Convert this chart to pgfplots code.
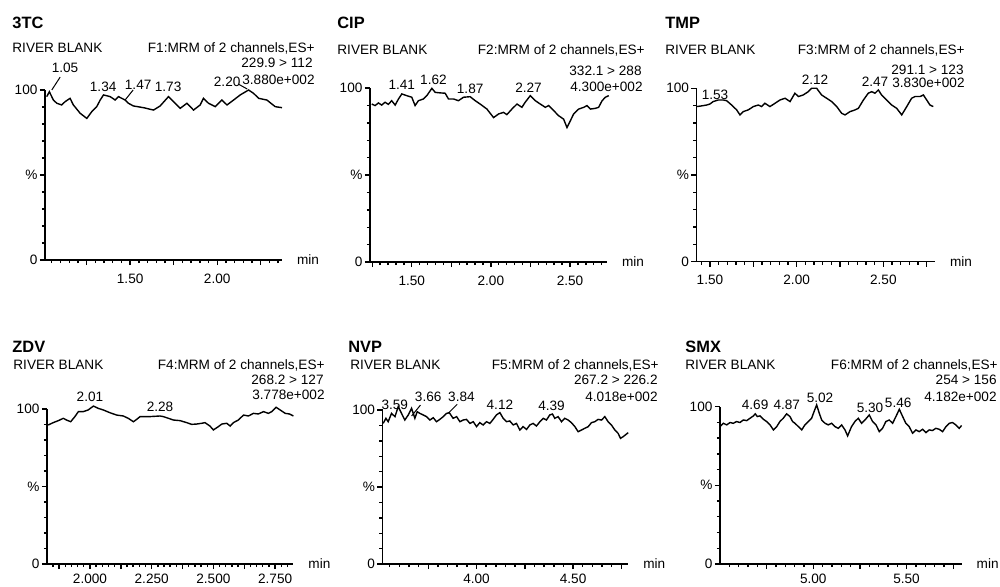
\documentclass[border=0pt]{standalone}
\usepackage{fontspec}
\setmainfont{Liberation Sans}
\usepackage{pgfplots}
\pgfplotsset{compat=1.18}

\newcommand{\ft}{\fontsize{6.8}{8}\selectfont}
\newcommand{\ttl}{\fontsize{8.2}{9}\selectfont\bfseries}

\pgfplotsset{
  chrom/.style={
    scale only axis, anchor=south west, clip=false,
    axis lines*=left, tick pos=left, tick align=outside,
    axis line style={line width=0.7pt},
    every tick/.style={black, line width=0.7pt},
    major tick length=2.6pt, minor tick length=1.6pt,
    ymin=0, ymax=100, ytick={0,50,100}, yticklabels={0,\%,100},
    minor ytick={10,20,...,90},
    tick label style={font=\ft, inner sep=1pt},
    xlabel={min},
    every axis x label/.style={at={(rel axis cs:1,0)}, anchor=west, xshift=4pt, font=\ft},
  },
  top/.style={xticklabel style={yshift=-3pt}},
  bot/.style={xticklabel style={yshift=-1pt}},
  trace/.style={black, line width=0.7pt, mark=none},
}
\tikzset{pk/.style={font=\ft, inner sep=0pt}}

\begin{document}
\begin{tikzpicture}[x=0.5pt, y=0.5pt]
\useasboundingbox (0,0) rectangle (1000,586);

% ---------- 3TC ----------
\begin{axis}[chrom, top, at={(22.5pt,163pt)}, width=118.5pt, height=85pt,
  xmin=1.011, xmax=2.372,
  xtick={1.25,1.50,1.75,2.00,2.25}, xticklabels={,1.50,,2.00,},
  minor xtick={1.05,1.10,...,2.36}]
\addplot[trace] coordinates {
(1.021,96.1)(1.036,99.0)(1.059,94.1)(1.079,92.2)(1.107,91.2)(1.126,93.1)
(1.155,95.1)(1.174,91.2)(1.213,86.3)(1.251,83.3)(1.280,87.3)(1.308,90.2)
(1.328,94.1)(1.347,97.1)(1.385,96.1)(1.414,94.1)(1.433,96.1)(1.471,94.1)
(1.490,92.2)(1.519,90.6)(1.577,89.6)(1.634,88.2)(1.672,90.6)(1.720,96.1)
(1.749,93.1)(1.787,89.2)(1.826,92.2)(1.864,88.2)(1.902,91.2)(1.921,95.1)
(1.950,92.2)(1.989,90.2)(2.027,94.1)(2.056,91.2)(2.094,94.1)(2.132,97.1)
(2.180,100.0)(2.209,98.0)(2.238,95.1)(2.285,94.1)(2.333,90.2)(2.372,89.6)};
\node[pk] at (axis cs:1.126,112.9) {1.05};
\draw[line width=0.5pt] (axis cs:1.050,100) -- (axis cs:1.098,107.6);
\node[pk] at (axis cs:1.345,101.8) {1.34};
\node[pk] at (axis cs:1.546,102.9) {1.47};
\draw[line width=0.5pt] (axis cs:1.471,94.1) -- (axis cs:1.517,100);
\node[pk] at (axis cs:1.718,101.8) {1.73};
\node[pk] at (axis cs:2.057,104.7) {2.20};
\draw[line width=0.5pt] (axis cs:2.121,103.5) -- (axis cs:2.172,100.6);
\end{axis}

% ---------- CIP ----------
\begin{axis}[chrom, top, at={(185pt,162pt)}, width=118.5pt, height=87pt,
  xmin=1.236, xmax=2.734,
  xtick={1.25,1.50,1.75,2.00,2.25,2.50}, xticklabels={,1.50,,2.00,,2.50},
  minor xtick={1.25,1.30,...,2.71}]
\addplot[trace] coordinates {
(1.247,90.8)(1.268,89.9)(1.289,91.4)(1.310,90.2)(1.331,91.8)(1.352,90.6)
(1.373,92.7)(1.395,90.2)(1.416,93.7)(1.437,96.6)(1.468,95.6)(1.500,94.7)
(1.521,89.9)(1.542,92.7)(1.574,93.7)(1.595,95.6)(1.627,99.8)(1.648,97.5)
(1.679,97.2)(1.711,97.0)(1.732,93.7)(1.764,93.7)(1.795,92.7)(1.827,94.7)
(1.869,95.0)(1.901,92.7)(1.932,90.8)(1.975,87.9)(2.017,83.0)(2.049,85.1)
(2.080,86.0)(2.101,84.7)(2.133,87.9)(2.165,90.8)(2.196,88.9)(2.217,91.8)
(2.249,95.6)(2.281,92.7)(2.312,90.8)(2.344,88.9)(2.365,89.9)(2.397,87.0)
(2.428,84.1)(2.460,82.1)(2.481,77.3)(2.502,81.1)(2.523,85.1)(2.555,87.9)
(2.587,88.9)(2.608,89.9)(2.629,87.9)(2.660,88.3)(2.681,88.9)(2.703,92.7)
(2.724,94.7)(2.745,95.6)};
\node[pk] at (axis cs:1.437,101.9) {1.41};
\node[pk] at (axis cs:1.637,104.6) {1.62};
\node[pk] at (axis cs:1.869,99.4) {1.87};
\node[pk] at (axis cs:2.238,100.0) {2.27};
\end{axis}

% ---------- TMP ----------
\begin{axis}[chrom, top, at={(348.3pt,162.2pt)}, width=119.2pt, height=86.7pt,
  xmin=1.423, xmax=2.798,
  xtick={1.50,1.75,2.00,2.25,2.50,2.75}, xticklabels={1.50,,2.00,,2.50,},
  minor xtick={1.45,1.50,...,2.76}]
\addplot[trace] coordinates {
(1.423,89.4)(1.452,89.8)(1.481,90.3)(1.500,90.9)(1.519,92.3)(1.548,93.2)
(1.577,93.2)(1.596,92.8)(1.625,90.3)(1.654,87.5)(1.673,84.6)(1.692,86.5)
(1.721,87.5)(1.750,89.4)(1.779,90.3)(1.798,89.4)(1.817,91.3)(1.846,89.4)
(1.875,91.3)(1.904,93.2)(1.933,94.2)(1.962,92.3)(1.990,97.1)(2.010,95.2)
(2.038,96.1)(2.067,98.0)(2.087,100.0)(2.115,100.0)(2.144,96.1)(2.173,94.2)
(2.202,92.3)(2.231,89.4)(2.260,85.5)(2.279,84.6)(2.308,86.5)(2.337,87.5)
(2.356,88.4)(2.385,93.2)(2.413,97.1)(2.433,98.0)(2.452,97.1)(2.471,99.0)
(2.490,96.1)(2.519,93.2)(2.548,90.3)(2.577,88.4)(2.606,84.6)(2.635,89.4)
(2.663,94.2)(2.683,95.2)(2.712,95.2)(2.731,96.1)(2.750,93.2)(2.769,90.3)
(2.788,89.4)};
\node[pk] at (axis cs:1.529,96.1) {1.53};
\node[pk] at (axis cs:2.106,104.8) {2.12};
\node[pk] at (axis cs:2.452,103.8) {2.47};
\end{axis}

% ---------- ZDV ----------
\begin{axis}[chrom, bot, at={(23.5pt,11pt)}, width=123.2pt, height=77.5pt,
  xmin=1.826, xmax=2.824,
  xtick={1.875,2.000,2.125,2.250,2.375,2.500,2.625,2.750},
  xticklabels={,2.000,,2.250,,2.500,,2.750},
  minor xtick={1.850,1.875,...,2.81}]
\addplot[trace] coordinates {
(1.831,89.7)(1.851,91.2)(1.872,92.5)(1.892,94.0)(1.905,92.9)(1.922,91.8)
(1.939,95.1)(1.953,98.3)(1.973,98.3)(1.993,99.4)(2.014,101.9)(2.034,100.4)
(2.054,99.4)(2.081,97.6)(2.108,96.1)(2.135,95.5)(2.155,94.0)(2.176,91.8)
(2.189,93.3)(2.203,95.1)(2.243,95.1)(2.284,95.5)(2.297,95.1)(2.318,94.0)
(2.338,92.9)(2.365,92.5)(2.392,91.2)(2.412,90.1)(2.432,90.3)(2.453,90.8)
(2.466,91.2)(2.486,89.0)(2.500,86.5)(2.520,88.6)(2.534,90.3)(2.554,90.8)
(2.568,89.0)(2.581,91.2)(2.601,92.9)(2.622,96.1)(2.642,95.5)(2.662,97.2)
(2.682,96.8)(2.703,98.3)(2.723,97.2)(2.736,98.3)(2.754,101.1)(2.770,99.4)
(2.791,97.2)(2.808,96.8)(2.824,95.5)};
\node[pk] at (axis cs:2.000,107.9) {2.01};
\node[pk] at (axis cs:2.284,101.5) {2.28};
\end{axis}

% ---------- NVP ----------
\begin{axis}[chrom, bot, at={(191.3pt,11pt)}, width=122.8pt, height=77pt,
  xmin=3.514, xmax=4.785,
  xtick={3.75,4.00,4.25,4.50,4.75}, xticklabels={,4.00,,4.50,},
  minor xtick={3.55,3.60,...,4.76}]
\addplot[trace] coordinates {
(3.517,91.3)(3.531,94.6)(3.543,92.4)(3.560,97.8)(3.578,95.7)(3.595,102.2)
(3.612,97.8)(3.629,93.5)(3.647,96.8)(3.664,101.1)(3.681,94.6)(3.693,98.9)
(3.707,97.8)(3.724,96.8)(3.741,95.7)(3.759,93.5)(3.776,95.0)(3.793,92.4)
(3.810,93.9)(3.828,95.7)(3.845,97.8)(3.859,98.3)(3.879,94.6)(3.897,95.7)
(3.914,92.4)(3.931,93.5)(3.948,93.9)(3.966,91.3)(3.983,92.4)(4.000,89.2)
(4.017,91.8)(4.034,90.3)(4.052,92.4)(4.069,91.3)(4.086,93.9)(4.103,96.8)
(4.121,98.3)(4.138,94.6)(4.155,92.4)(4.172,92.9)(4.190,90.3)(4.207,91.3)
(4.224,87.0)(4.241,89.2)(4.259,87.4)(4.276,90.3)(4.293,91.3)(4.310,89.6)
(4.328,92.4)(4.345,94.6)(4.362,93.5)(4.379,96.8)(4.393,97.4)(4.405,94.6)
(4.422,95.7)(4.440,92.4)(4.457,94.6)(4.474,93.5)(4.491,91.8)(4.509,89.2)
(4.526,85.9)(4.543,87.0)(4.560,88.1)(4.578,89.2)(4.595,91.8)(4.612,92.4)
(4.629,93.9)(4.647,93.5)(4.664,95.7)(4.681,92.4)(4.698,90.3)(4.716,87.0)
(4.733,84.8)(4.745,81.6)(4.759,82.7)(4.776,84.4)(4.785,85.3)};
\node[pk] at (axis cs:3.577,103.2) {3.59};
\node[pk] at (axis cs:3.750,108.6) {3.66};
\draw[line width=0.5pt] (axis cs:3.664,96.1) -- (axis cs:3.710,103.2);
\node[pk] at (axis cs:3.922,108.6) {3.84};
\draw[line width=0.5pt] (axis cs:3.853,97.8) -- (axis cs:3.900,103.7);
\node[pk] at (axis cs:4.121,103.2) {4.12};
\node[pk] at (axis cs:4.388,102.6) {4.39};
\end{axis}

% ---------- SMX ----------
\begin{axis}[chrom, bot, at={(360pt,11pt)}, width=120.8pt, height=78.7pt,
  xmin=4.50, xmax=5.795,
  xtick={4.75,5.00,5.25,5.50,5.75}, xticklabels={,5.00,,5.50,},
  minor xtick={4.55,4.60,...,5.76}]
\addplot[trace] coordinates {
(4.500,87.3)(4.518,89.4)(4.536,88.4)(4.554,89.9)(4.571,89.4)(4.589,90.5)
(4.607,89.9)(4.625,91.5)(4.643,91.1)(4.661,92.6)(4.679,94.1)(4.689,95.4)
(4.700,93.7)(4.714,94.1)(4.732,92.0)(4.750,90.5)(4.768,88.4)(4.786,85.2)
(4.804,87.3)(4.821,90.5)(4.839,92.6)(4.857,95.4)(4.875,93.7)(4.889,90.5)
(4.902,89.4)(4.920,87.3)(4.938,85.2)(4.955,88.4)(4.973,90.5)(4.991,92.6)
(5.004,96.8)(5.018,101.1)(5.032,95.8)(5.045,91.5)(5.063,89.4)(5.080,88.4)
(5.098,89.4)(5.116,87.3)(5.134,86.2)(5.152,88.4)(5.170,85.2)(5.184,81.4)
(5.205,87.3)(5.223,90.5)(5.241,92.6)(5.259,89.4)(5.277,91.5)(5.300,94.7)
(5.318,90.5)(5.336,88.4)(5.354,84.1)(5.371,86.2)(5.389,90.5)(5.407,91.5)
(5.425,89.4)(5.443,93.7)(5.461,98.3)(5.479,93.7)(5.496,89.4)(5.514,87.3)
(5.532,83.1)(5.550,85.2)(5.568,84.1)(5.586,85.6)(5.604,83.5)(5.621,85.2)
(5.639,84.8)(5.657,86.2)(5.675,85.6)(5.693,84.1)(5.711,87.3)(5.729,89.4)
(5.746,89.9)(5.764,88.4)(5.782,86.2)(5.795,88.0)};
\node[pk] at (axis cs:4.688,101.1) {4.69};
\node[pk] at (axis cs:4.858,101.1) {4.87};
\node[pk] at (axis cs:5.036,105.3) {5.02};
\node[pk] at (axis cs:5.304,99.0) {5.30};
\node[pk] at (axis cs:5.455,102.2) {5.46};
\end{axis}

% ---------- headers ----------
\begin{scope}[every node/.style={inner sep=0pt, font=\ft}]
\node[anchor=west, font=\ttl] at (12,563) {3TC};
\node[anchor=west] at (12,538) {RIVER BLANK};
\node[anchor=east] at (315,538) {F1:MRM of 2 channels,ES+};
\node[anchor=east] at (313,523) {229.9 > 112};
\node[anchor=east] at (315,506) {3.880e+002};

\node[anchor=west, font=\ttl] at (337,563) {CIP};
\node[anchor=west] at (337,536) {RIVER BLANK};
\node[anchor=east] at (645,536) {F2:MRM of 2 channels,ES+};
\node[anchor=east] at (642,515) {332.1 > 288};
\node[anchor=east] at (643,499) {4.300e+002};

\node[anchor=west, font=\ttl] at (665,563) {TMP};
\node[anchor=west] at (665,536) {RIVER BLANK};
\node[anchor=east] at (965,536) {F3:MRM of 2 channels,ES+};
\node[anchor=east] at (964,516) {291.1 > 123};
\node[anchor=east] at (965,503) {3.830e+002};

\node[anchor=west, font=\ttl] at (12,239) {ZDV};
\node[anchor=west] at (13,221) {RIVER BLANK};
\node[anchor=east] at (325,221) {F4:MRM of 2 channels,ES+};
\node[anchor=east] at (324,206) {268.2 > 127};
\node[anchor=east] at (325,191) {3.778e+002};

\node[anchor=west, font=\ttl] at (348,239) {NVP};
\node[anchor=west] at (350,221) {RIVER BLANK};
\node[anchor=east] at (659,221) {F5:MRM of 2 channels,ES+};
\node[anchor=east] at (658,206) {267.2 > 226.2};
\node[anchor=east] at (658,189) {4.018e+002};

\node[anchor=west, font=\ttl] at (685,239) {SMX};
\node[anchor=west] at (685,221) {RIVER BLANK};
\node[anchor=east] at (998,221) {F6:MRM of 2 channels,ES+};
\node[anchor=east] at (997,206) {254 > 156};
\node[anchor=east] at (997,189) {4.182e+002};
\end{scope}
\end{tikzpicture}
\end{document}
